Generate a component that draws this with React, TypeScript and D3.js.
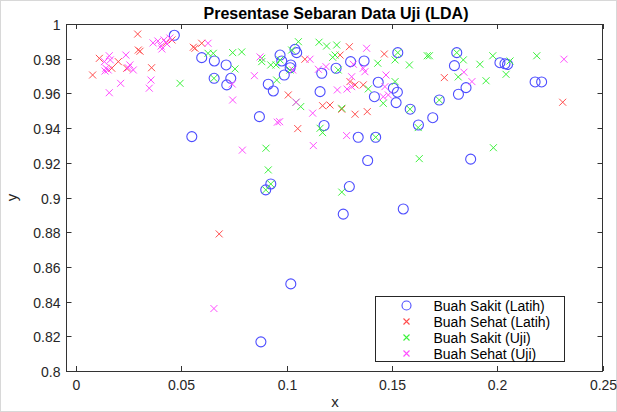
import React, { useRef, useEffect } from 'react';
import * as d3 from 'd3';

// Buah Sakit (Latih) - blue circles
const sakitLatih: [number, number][] = [
  [0.0467, 0.9935], [0.0597, 0.9806], [0.0657, 0.9787], [0.0713, 0.9764], [0.0656, 0.9687],
  [0.0735, 0.9687], [0.0716, 0.9649], [0.0550, 0.9351], [0.0871, 0.9466], [0.0969, 0.9821],
  [0.0977, 0.9787], [0.1040, 0.9854], [0.1048, 0.9835], [0.1020, 0.9764], [0.1017, 0.9748],
  [0.0989, 0.9706], [0.0913, 0.9653], [0.0937, 0.9614], [0.1167, 0.9716], [0.1235, 0.9745],
  [0.1159, 0.9610], [0.1178, 0.9415], [0.1304, 0.9783], [0.1368, 0.9787], [0.1528, 0.9835],
  [0.1435, 0.9664], [0.1507, 0.9630], [0.1526, 0.9607], [0.1417, 0.9581], [0.1520, 0.9547],
  [0.1587, 0.9509], [0.1694, 0.9460], [0.1626, 0.9418], [0.1808, 0.9835], [0.1797, 0.9760],
  [0.1852, 0.9633], [0.1816, 0.9595], [0.1725, 0.9562], [0.2013, 0.9777], [0.2037, 0.9771],
  [0.2049, 0.9767], [0.2180, 0.9666], [0.2211, 0.9666], [0.1340, 0.9347], [0.1423, 0.9347],
  [0.1385, 0.9213], [0.1874, 0.9221], [0.1298, 0.9063], [0.1269, 0.8904], [0.1554, 0.8934],
  [0.0925, 0.9078], [0.0901, 0.9044], [0.1020, 0.8502], [0.0878, 0.8168],
];

// Buah Sehat (Latih) - red crosses
const sehatLatih: [number, number][] = [
  [0.0293, 0.9942], [0.0296, 0.9850], [0.0304, 0.9843], [0.0557, 0.9866], [0.0565, 0.9860],
  [0.0597, 0.9889], [0.0111, 0.9802], [0.0201, 0.9783], [0.0241, 0.9745], [0.0170, 0.9745],
  [0.0079, 0.9706], [0.0359, 0.9748], [0.0427, 0.9891], [0.0456, 0.9908], [0.1087, 0.9797],
  [0.1254, 0.9821], [0.1008, 0.9591], [0.1171, 0.9529], [0.1206, 0.9533], [0.1262, 0.9509],
  [0.1298, 0.9869], [0.1301, 0.9668], [0.1325, 0.9649], [0.1364, 0.9649], [0.1464, 0.9827],
  [0.1325, 0.9480], [0.1383, 0.9495], [0.1749, 0.9691], [0.2311, 0.9549], [0.1053, 0.9397],
  [0.0680, 0.8790],
];

// Buah Sakit (Uji) - green crosses
const sakitUji: [number, number][] = [
  [0.0627, 0.9831], [0.0652, 0.9831], [0.0494, 0.9658], [0.0755, 0.9741], [0.0744, 0.9835],
  [0.0787, 0.9839], [0.0655, 0.9687], [0.0882, 0.9802], [0.0882, 0.9783], [0.0969, 0.9793],
  [0.0950, 0.9764], [0.0925, 0.9764], [0.1056, 0.9898], [0.1024, 0.9850], [0.1016, 0.9735],
  [0.0953, 0.9677], [0.1154, 0.9895], [0.1190, 0.9873], [0.1238, 0.9879], [0.1230, 0.9821],
  [0.1219, 0.9808], [0.1245, 0.9735], [0.1045, 0.9549], [0.1067, 0.9524], [0.1262, 0.9514],
  [0.1388, 0.9626], [0.1528, 0.9835], [0.1515, 0.9793], [0.1433, 0.9774], [0.1583, 0.9764],
  [0.1668, 0.9817], [0.1678, 0.9817], [0.1515, 0.9668], [0.1459, 0.9543], [0.1586, 0.9509],
  [0.1808, 0.9835], [0.1839, 0.9793], [0.1918, 0.9768], [0.1815, 0.9695], [0.1947, 0.9673],
  [0.1725, 0.9562], [0.1979, 0.9817], [0.2061, 0.9787], [0.2042, 0.9710], [0.2188, 0.9817],
  [0.1625, 0.9403], [0.1423, 0.9347], [0.1159, 0.9399], [0.1171, 0.9374], [0.0902, 0.9284],
  [0.0913, 0.9159], [0.0925, 0.9078], [0.0901, 0.9044], [0.1262, 0.9031], [0.1630, 0.9224],
  [0.1982, 0.9287],
];

// Buah Sehat (Uji) - magenta crosses
const sehatUji: [number, number][] = [
  [0.0366, 0.9891], [0.0389, 0.9902], [0.0404, 0.9873], [0.0418, 0.9908], [0.0432, 0.9885],
  [0.0446, 0.9919], [0.0408, 0.9856], [0.0158, 0.9817], [0.0163, 0.9793], [0.0135, 0.9783],
  [0.0237, 0.9821], [0.0256, 0.9764], [0.0248, 0.9748], [0.0142, 0.9745], [0.0153, 0.9735],
  [0.0138, 0.9729], [0.0272, 0.9735], [0.0356, 0.9677], [0.0212, 0.9658], [0.0348, 0.9630],
  [0.0158, 0.9604], [0.0627, 0.9889], [0.0742, 0.9654], [0.0847, 0.9702], [0.0744, 0.9562],
  [0.0874, 0.9810], [0.1029, 0.9735], [0.1111, 0.9797], [0.1151, 0.9739], [0.1187, 0.9754],
  [0.1241, 0.9620], [0.1287, 0.9625], [0.1045, 0.9549], [0.1124, 0.9486], [0.0956, 0.9434],
  [0.0967, 0.9437], [0.1380, 0.9860], [0.1317, 0.9768], [0.1364, 0.9745], [0.1372, 0.9725],
  [0.1309, 0.9696], [0.1309, 0.9639], [0.1472, 0.9706], [0.1467, 0.9639], [0.1483, 0.9591],
  [0.1459, 0.9581], [0.1842, 0.9722], [0.1880, 0.9668], [0.2317, 0.9797], [0.1285, 0.9357],
  [0.1127, 0.9299], [0.0790, 0.9273], [0.0655, 0.8360],
];

const xTicks = [0, 0.05, 0.1, 0.15, 0.2, 0.25];
const xTickLabels = ['0', '0.05', '0.1', '0.15', '0.2', '0.25'];
const yTicks = [0.8, 0.82, 0.84, 0.86, 0.88, 0.9, 0.92, 0.94, 0.96, 0.98, 1];
const yTickLabels = ['0.8', '0.82', '0.84', '0.86', '0.88', '0.9', '0.92', '0.94', '0.96', '0.98', '1'];

const legendLabels = ['Buah Sakit (Latih)', 'Buah Sehat (Latih)', 'Buah Sakit (Uji)', 'Buah Sehat (Uji)'];
const seriesColors = ['#4d4dff', '#ff4d4d', '#3cf23c', '#ff4dff'];

const width = 617;
const height = 412;

function ScatterChart() {
  const ref = useRef<SVGSVGElement>(null);

  useEffect(() => {
    const svg = d3.select(ref.current);
    svg.selectAll('*').remove();

    const font = 'Liberation Sans, Arial, sans-serif';
    const axisColor = '#333333';
    const left = 66.5, right = 602.5, top = 24, bottom = 371;

    const x = d3.scaleLinear().domain([-0.0045, 0.25]).range([left, right]);
    const y = d3.scaleLinear().domain([0.8, 1]).range([bottom, top]);

    svg.append('rect')
      .attr('x', 0.5).attr('y', 0.5)
      .attr('width', width - 1).attr('height', height - 1)
      .attr('fill', 'white').attr('stroke', '#d8d8d8');

    // ticks inside, on all four sides
    const tl = 5;
    const g = svg.append('g');
    xTicks.forEach((t, i) => {
      const px = Math.round(x(t)) + 0.5;
      g.append('line').attr('x1', px).attr('x2', px).attr('y1', bottom).attr('y2', bottom - tl).attr('stroke', axisColor);
      g.append('line').attr('x1', px).attr('x2', px).attr('y1', top).attr('y2', top + tl).attr('stroke', axisColor);
      g.append('text').text(xTickLabels[i])
        .attr('x', px).attr('y', bottom + 19)
        .attr('text-anchor', 'middle')
        .style('font-family', font).style('font-size', '14px').attr('fill', '#262626');
    });
    yTicks.forEach((t, i) => {
      const py = Math.round(y(t)) + 0.5;
      g.append('line').attr('x1', left).attr('x2', left + tl).attr('y1', py).attr('y2', py).attr('stroke', axisColor);
      g.append('line').attr('x1', right).attr('x2', right - tl).attr('y1', py).attr('y2', py).attr('stroke', axisColor);
      g.append('text').text(yTickLabels[i])
        .attr('x', left - 6).attr('y', py + 5)
        .attr('text-anchor', 'end')
        .style('font-family', font).style('font-size', '14px').attr('fill', '#262626');
    });

    const plot = svg.append('g');

    const crossPath = (cx: number, cy: number, s: number) =>
      `M${cx - s},${cy - s}L${cx + s},${cy + s}M${cx - s},${cy + s}L${cx + s},${cy - s}`;

    const cross = (data: [number, number][], color: string) => {
      plot.append('g').selectAll('path')
        .data(data)
        .enter()
        .append('path')
        .attr('d', d => crossPath(x(d[0]), y(d[1]), 3.5))
        .style('stroke', color)
        .style('stroke-width', 1)
        .style('fill', 'none');
    };

    plot.append('g').selectAll('circle')
      .data(sakitLatih)
      .enter()
      .append('circle')
      .attr('cx', d => x(d[0]))
      .attr('cy', d => y(d[1]))
      .attr('r', 5)
      .style('fill', 'none')
      .style('stroke', seriesColors[0])
      .style('stroke-width', 1.1);

    cross(sehatLatih, seriesColors[1]);
    cross(sakitUji, seriesColors[2]);
    cross(sehatUji, seriesColors[3]);

    // axes box
    svg.append('rect')
      .attr('x', left).attr('y', top + 0.5)
      .attr('width', right - left).attr('height', bottom - top)
      .attr('fill', 'none').attr('stroke', axisColor);

    // title and labels
    svg.append('text').text('Presentase Sebaran Data Uji (LDA)')
      .attr('x', 336).attr('y', 19)
      .attr('text-anchor', 'middle')
      .style('font-family', font).style('font-size', '16px').style('font-weight', 'bold')
      .attr('fill', 'black');
    svg.append('text').text('x')
      .attr('x', 335).attr('y', 407)
      .attr('text-anchor', 'middle')
      .style('font-family', font).style('font-size', '15px').attr('fill', '#262626');
    svg.append('text').text('y')
      .attr('transform', `translate(17,${(top + bottom) / 2}) rotate(-90)`)
      .attr('text-anchor', 'middle')
      .style('font-family', font).style('font-size', '15px').attr('fill', '#262626');

    // legend
    const lg = svg.append('g').attr('transform', 'translate(375.5,296.5)');
    lg.append('rect').attr('width', 189).attr('height', 65).attr('fill', 'white').attr('stroke', '#262626');
    legendLabels.forEach((label, i) => {
      const cy = 9 + i * 16;
      if (i === 0) {
        lg.append('circle').attr('cx', 31).attr('cy', cy).attr('r', 4.5)
          .style('fill', 'none').style('stroke', seriesColors[i]).style('stroke-width', 1.1);
      } else {
        lg.append('path')
          .attr('d', crossPath(31, cy, 3))
          .style('stroke', seriesColors[i]).style('stroke-width', 1.1).style('fill', 'none');
      }
      lg.append('text').text(label)
        .attr('x', 58).attr('y', cy + 5)
        .style('font-family', font).style('font-size', '14px').attr('fill', 'black');
    });
  }, []);

  return (
    <svg ref={ref} width={width} height={height}
      style={{ position: 'absolute', left: 0, top: 0, display: 'block', background: 'white' }} />
  );
}

export default function App() {
  return <ScatterChart />;
}
